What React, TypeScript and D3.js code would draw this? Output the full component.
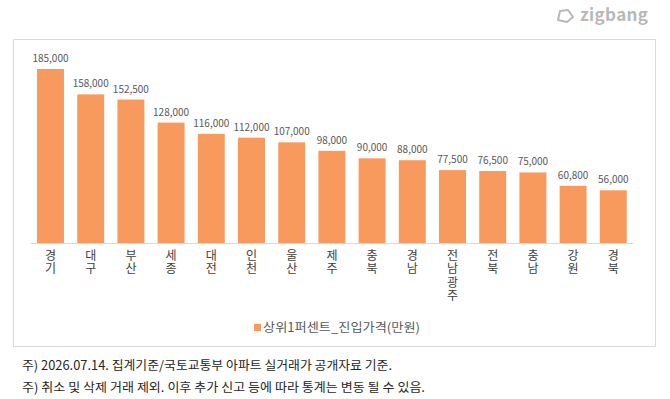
import React, { useEffect, useRef } from "react";
import * as d3 from "d3";

const regions = ["경기", "대구", "부산", "세종", "대전", "인천", "울산", "제주", "충북", "경남", "전남광주", "전북", "충남", "강원", "경북"];
const prices = [185000, 158000, 152500, 128000, 116000, 112000, 107000, 98000, 90000, 88000, 77500, 76500, 75000, 60800, 56000];
const seriesName = "상위1퍼센트_진입가격(만원)";
const footnotes = [
    "주) 2026.07.14. 집계기준/국토교통부 아파트 실거래가 공개자료 기준.",
    "주) 취소 및 삭제 거래 제외. 이후 추가 신고 등에 따라 통계는 변동 될 수 있음.",
];
const footnoteWidths = [370, 403];

const W = 670;
const H = 399;
const FONT = "'Noto Sans CJK KR', 'Noto Sans', sans-serif";
const BAR = "#f8995d";

export default function App() {
    const ref = useRef<SVGSVGElement | null>(null);

    useEffect(() => {
        const svg = d3.select(ref.current);
        svg.selectAll("*").remove();

        // outer frame of the chart area
        svg.append("rect")
            .attr("x", 13.5)
            .attr("y", 39.5)
            .attr("width", 642)
            .attr("height", 307)
            .attr("fill", "#fff")
            .attr("stroke", "#d9d9d9");

        // logo
        const logo = svg.append("g").attr("transform", "translate(557,16)");
        logo.append("path")
            .attr("d", "M3,-5 L11,-6 L16,1 L10,6 L1,4 Z")
            .attr("fill", "none")
            .attr("stroke", "#b8b8b8")
            .attr("stroke-width", 2)
            .attr("stroke-linejoin", "round");
        logo.append("text")
            .attr("x", 23)
            .attr("y", 5)
            .attr("font-family", FONT)
            .attr("font-size", 17)
            .attr("font-weight", 700)
            .attr("fill", "#b8b8b8")
            .attr("textLength", 68)
            .text("zigbang");

        const x = d3.scaleBand<string>()
            .domain(regions)
            .range([30.6, 633.2])
            .paddingInner(0.33)
            .paddingOuter(0.16);

        const y = d3.scaleLinear()
            .domain([0, d3.max(prices) as number])
            .range([243, 69]);

        const data = regions.map((r, i) => ({ region: r, value: prices[i] }));

        svg.append("g")
            .attr("fill", BAR)
            .selectAll("rect")
            .data(data)
            .join("rect")
            .attr("x", (d) => x(d.region) as number)
            .attr("y", (d) => y(d.value))
            .attr("width", x.bandwidth())
            .attr("height", (d) => y(0) - y(d.value));

        // baseline
        svg.append("line")
            .attr("x1", x.range()[0])
            .attr("x2", x.range()[1])
            .attr("y1", y(0) + 0.5)
            .attr("y2", y(0) + 0.5)
            .attr("stroke", "#d9d9d9");

        // value labels
        svg.append("g")
            .selectAll("text")
            .data(data)
            .join("text")
            .attr("x", (d) => (x(d.region) as number) + x.bandwidth() / 2)
            .attr("y", (d) => y(d.value) - 7)
            .attr("text-anchor", "middle")
            .attr("font-family", FONT)
            .attr("font-size", 10)
            .attr("fill", "#595959")
            .text((d) => d3.format(",")(d.value));

        // category labels, one char per line (single text with tspans)
        const cat = svg.append("g")
            .selectAll("text")
            .data(regions)
            .join("text")
            .attr("text-anchor", "middle")
            .attr("font-family", FONT)
            .attr("font-size", 12)
            .attr("fill", "#404040");
        cat.selectAll("tspan")
            .data((d) => Array.from(d).map((c) => ({ c, r: d })))
            .join("tspan")
            .attr("x", (d) => (x(d.r) as number) + x.bandwidth() / 2)
            .attr("y", (_, i) => 260 + i * 13.3)
            .text((d) => d.c);

        // legend
        const lg = svg.append("g").attr("transform", "translate(254,324)");
        lg.append("rect").attr("width", 7).attr("height", 7).attr("fill", BAR);
        lg.append("text")
            .attr("x", 9)
            .attr("y", 7.5)
            .attr("font-family", FONT)
            .attr("font-size", 12.5)
            .attr("fill", "#595959")
            .attr("textLength", 157)
            .attr("lengthAdjust", "spacingAndGlyphs")
            .text(seriesName);

        // footnotes
        svg.append("g")
            .selectAll("text")
            .data(footnotes)
            .join("text")
            .attr("x", 22)
            .attr("y", (_, i) => 370 + i * 21.5)
            .attr("font-family", FONT)
            .attr("font-size", 12.5)
            .attr("fill", "#262626")
            .attr("textLength", (_, i) => footnoteWidths[i])
            .attr("lengthAdjust", "spacingAndGlyphs")
            .text((d) => d);
    }, []);

    return (
        <svg
            ref={ref}
            width={W}
            height={H}
            viewBox={`0 0 ${W} ${H}`}
            style={{ position: "absolute", left: 0, top: 0, background: "#fff" }}
        />
    );
}
